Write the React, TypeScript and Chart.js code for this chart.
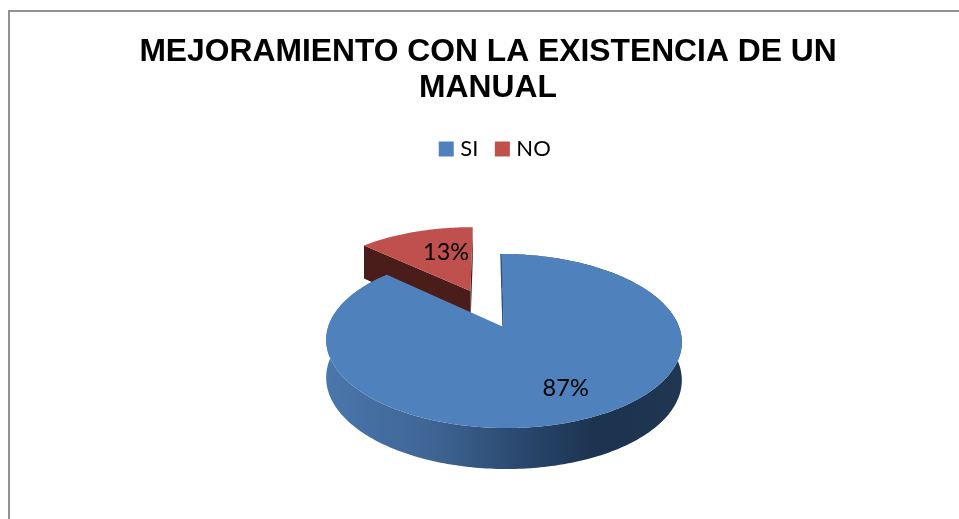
import React, { useEffect, useRef } from "react";
import { Chart, registerables } from "chart.js";

Chart.register(...registerables);

const titleLines = ["MEJORAMIENTO CON LA EXISTENCIA DE UN", "MANUAL"];
const categories = ["SI", "NO"];
const percentages = [87, 13];
const sliceColors = ["#4F81BD", "#C0504D"];

// Perspective view of the unit disc that the pie lies on.
const VIEW = { cx: 504, radius: 175.5, shear: 2.5, a: 32.1, b: 327, c: -0.161 };
const EXPLODE = 0.495;
const LABEL_SPOTS = [0.72, 0.6];
const LABEL_TURNS = [-0.033, 0.12];
const LABEL_FONT = "23.5px Lato";

const project = (u: number, v: number, drop = false): [number, number] => {
  const w = 1 + VIEW.c * v;
  const x = VIEW.cx + (VIEW.radius * u + VIEW.shear * (v - 0.161)) / w;
  const y = (VIEW.a * v + VIEW.b) / w + (drop ? 37.3 + 3.7 * v : 0);
  return [x, y];
};

const trace = (ctx: CanvasRenderingContext2D, pts: [number, number][]) => {
  ctx.beginPath();
  pts.forEach(([x, y], i) => (i ? ctx.lineTo(x, y) : ctx.moveTo(x, y)));
  ctx.closePath();
};

// One wedge in disc coordinates, taken from the angles of the arc element.
const wedge = (arc: any) => {
  const mid = (arc.startAngle + arc.endAngle) / 2;
  const shift = (arc.options.offset || 0) / arc.outerRadius;
  const ox = Math.cos(mid) * shift;
  const oy = Math.sin(mid) * shift;
  const rim: [number, number][] = [];
  const steps = Math.ceil(((arc.endAngle - arc.startAngle) * 180) / Math.PI);
  for (let i = 0; i <= steps; i++) {
    const t = arc.startAngle + ((arc.endAngle - arc.startAngle) * i) / steps;
    rim.push([Math.cos(t) + ox, Math.sin(t) + oy]);
  }
  return { mid, ox, oy, rim };
};

const pie3d = {
  id: "pie3d",
  beforeDraw(chart: any) {
    const { ctx } = chart;
    ctx.save();
    ctx.strokeStyle = "#929292";
    ctx.lineWidth = 2;
    ctx.strokeRect(9, 11, 1000, 600);
    ctx.restore();
  },
  afterLayout(chart: any) {
    chart.legend.left += 9;
    chart.legend.right += 9;
  },
  beforeDatasetsDraw(chart: any) {
    const { ctx } = chart;
    const arcs = chart.getDatasetMeta(0).data;
    const [main, cut] = arcs.map(wedge);
    ctx.save();

    // Detached slice: inner faces, then its top.
    const cutTip: [number, number] = [cut.ox, cut.oy];
    const faceOf = (a: [number, number]) =>
      [project(cutTip[0], cutTip[1]), project(a[0], a[1]), project(a[0], a[1], true), project(cutTip[0], cutTip[1], true)] as [number, number][];
    ctx.fillStyle = "#4A1D1B";
    trace(ctx, faceOf(cut.rim[cut.rim.length - 1]));
    ctx.fill();
    trace(ctx, faceOf(cut.rim[0]));
    ctx.fill();
    trace(ctx, [project(cutTip[0], cutTip[1]), ...cut.rim.map(([u, v]: number[]) => project(u, v))]);
    ctx.fillStyle = sliceColors[1];
    ctx.fill();

    // Main slice: outer wall with its shading, then the top.
    const [lx] = project(-1, 0.16);
    const [rx] = project(1, 0.16);
    const shade = ctx.createLinearGradient(lx, 0, rx, 0);
    shade.addColorStop(0, "#4A77AD");
    shade.addColorStop(0.3, "#3F6594");
    shade.addColorStop(0.52, "#2B4B72");
    shade.addColorStop(0.75, "#1C3350");
    shade.addColorStop(1, "#203752");
    const top = main.rim.map(([u, v]: number[]) => project(u, v));
    const low = main.rim.map(([u, v]: number[]) => project(u, v, true)).reverse();
    trace(ctx, [...top, ...low]);
    ctx.fillStyle = shade;
    ctx.fill();
    const [sx, sy] = project(main.rim[0][0], main.rim[0][1]);
    const [tx, ty] = project(0, 0);
    ctx.beginPath();
    ctx.moveTo(sx - 0.5, sy);
    ctx.lineTo(tx - 0.5, ty);
    ctx.strokeStyle = "#2F4F78";
    ctx.lineWidth = 1.5;
    ctx.stroke();
    trace(ctx, [project(0, 0), ...top]);
    ctx.fillStyle = sliceColors[0];
    ctx.fill();

    // Percentage labels.
    ctx.fillStyle = "#000000";
    ctx.font = LABEL_FONT;
    ctx.textAlign = "center";
    ctx.textBaseline = "middle";
    [main, cut].forEach((s: any, i: number) => {
      const t = s.mid + LABEL_TURNS[i];
      const [x, y] = project(s.ox + Math.cos(t) * LABEL_SPOTS[i], s.oy + Math.sin(t) * LABEL_SPOTS[i]);
      ctx.fillText(`${percentages[i]}%`, x, y);
    });
    ctx.restore();
    return false;
  },
};

export default function App() {
  const ref = useRef<HTMLCanvasElement>(null);
  useEffect(() => {
    const chart = new Chart(ref.current!, {
      type: "pie",
      data: {
        labels: categories,
        datasets: [
          {
            data: percentages,
            backgroundColor: sliceColors,
            borderWidth: 0,
            hoverOffset: 0,
            offset: (c: any) => {
              const h = c.chart.chartArea ? c.chart.chartArea.height : 0;
              return c.dataIndex === 1 ? (EXPLODE * h) / (2 + EXPLODE) : 0;
            },
          },
        ],
      },
      options: {
        animation: false,
        responsive: false,
        layout: { padding: { left: 17, top: 0 } },
        plugins: {
          title: {
            display: true,
            text: titleLines,
            color: "#000000",
            font: { family: "'Liberation Sans'", size: 31.8, weight: "bold", lineHeight: 1.132 },
            padding: { top: 34, bottom: 11 },
          },
          legend: {
            display: true,
            position: "top",
            labels: {
              // A small box with a thick outline keeps the text close to the swatch.
              boxWidth: 6,
              boxHeight: 6,
              padding: 21,
              color: "#000000",
              font: { family: "Lato", size: 22 },
              generateLabels: (chart: any) =>
                (Chart as any).overrides.pie.plugins.legend.labels
                  .generateLabels(chart)
                  .map((item: any) => ({ ...item, lineWidth: 9, strokeStyle: item.fillStyle })),
            },
          },
          tooltip: { enabled: false },
        },
      },
      plugins: [pie3d],
    } as any);
    return () => chart.destroy();
  }, []);
  return (
    <div style={{ position: "fixed", left: 0, top: 0, width: 959, height: 519, overflow: "hidden", background: "#fff" }}>
      <canvas ref={ref} width={959} height={519} style={{ display: "block" }} />
    </div>
  );
}
